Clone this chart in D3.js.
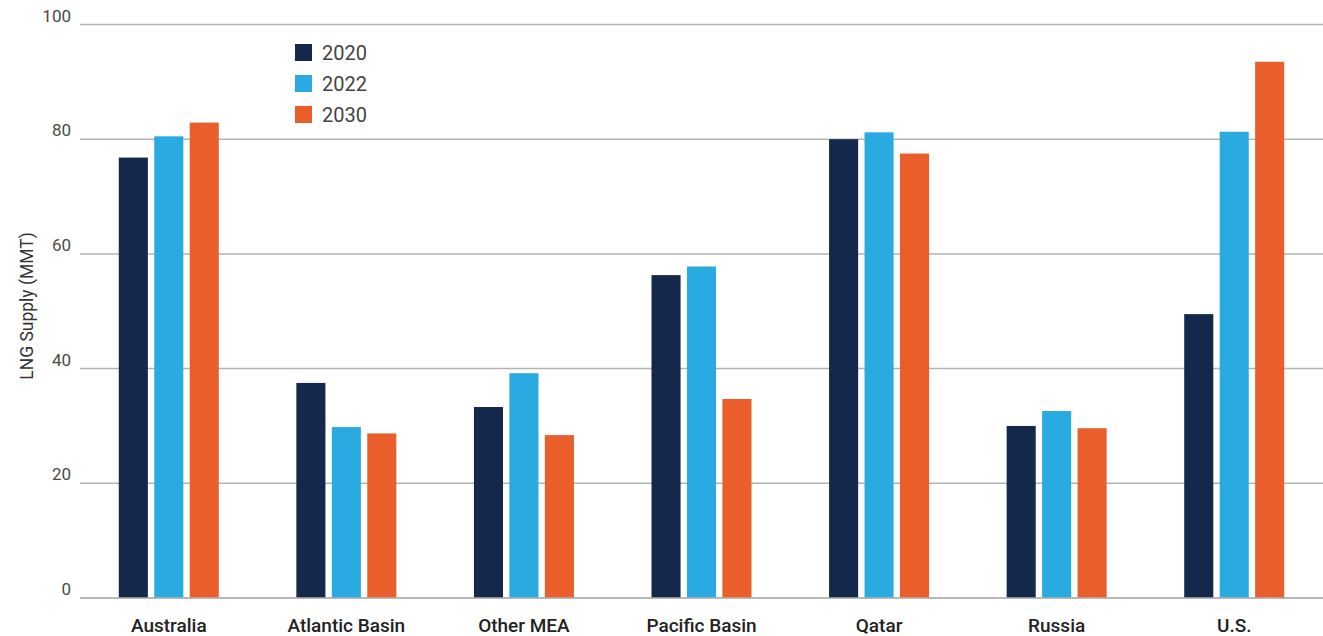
<!DOCTYPE html>
<html>
<head>
<meta charset="utf-8">
<script src="https://cdn.jsdelivr.net/npm/d3@7"></script>
<style>
  body { margin: 0; background: #fff; }
  svg text { font-family: Roboto, "Liberation Sans", sans-serif; }
</style>
</head>
<body>
<div id="chart"></div>
<script>
const regions = ['Australia', 'Atlantic Basin', 'Other MEA', 'Pacific Basin', 'Qatar', 'Russia', 'U.S.']
const years = ['2020', '2022', '2030']
const supply2020 = [76.8, 37.5, 33.3, 56.3, 80.0, 30.0, 49.5]
const supply2022 = [80.5, 29.8, 39.2, 57.8, 81.2, 32.6, 81.3]
const supply2030 = [82.9, 28.7, 28.4, 34.7, 77.5, 29.6, 93.5]
const yTicks = [0, 20, 40, 60, 80, 100]
const colors = ['#13284b', '#29abe2', '#e95e2a']

const width = 1323, height = 636
const margin = {top: 24.5, right: 0, bottom: 38, left: 80}

const series = [supply2020, supply2022, supply2030]
const rows = regions.map((r, i) => ({
    region: r,
    values: years.map((y, j) => ({year: y, value: series[j][i]}))
}))

const svg = d3.select('#chart').append('svg')
    .attr('width', width)
    .attr('height', height)

const x0 = d3.scaleBand()
    .domain(regions)
    .range([margin.left, width - margin.right])
    .padding(0)

const x1 = d3.scaleBand()
    .domain(years)
    .range([0, 100])
    .paddingInner(0.18)
    .paddingOuter(0)

const y = d3.scaleLinear()
    .domain([0, 100])
    .range([height - margin.bottom, margin.top])

// gridlines
svg.append('g')
    .selectAll('line')
    .data(yTicks)
    .join('line')
    .attr('x1', margin.left)
    .attr('x2', width - margin.right)
    .attr('y1', d => y(d))
    .attr('y2', d => y(d))
    .style('stroke', '#b3b3b3')
    .style('stroke-width', 1.5)

// y tick labels
svg.append('g')
    .selectAll('text')
    .data(yTicks)
    .join('text')
    .attr('x', 71)
    .attr('y', d => y(d) - 3)
    .attr('text-anchor', 'end')
    .style('font-size', '17px')
    .style('fill', '#4a4a4a')
    .text(d => d)

// y axis title
svg.append('text')
    .attr('transform', `translate(33, ${306})rotate(-90)`)
    .attr('text-anchor', 'middle')
    .style('font-size', '17.5px')
    .style('fill', '#333')
    .text('LNG Supply (MMT)')

// bars
const groups = svg.append('g')
    .selectAll('g')
    .data(rows)
    .join('g')
    .attr('transform', d => `translate(${x0(d.region) + x0.bandwidth() / 2 - 50}, 0)`)

groups.selectAll('rect')
    .data(d => d.values)
    .join('rect')
    .attr('x', d => x1(d.year))
    .attr('y', d => y(d.value))
    .attr('width', x1.bandwidth())
    .attr('height', d => y(0) - y(d.value))
    .style('fill', (d, i) => colors[i])

// zero line on top
svg.append('line')
    .attr('x1', margin.left)
    .attr('x2', width)
    .attr('y1', y(0))
    .attr('y2', y(0))
    .style('stroke', '#b3b3b3')
    .style('stroke-width', 1.5)

// category labels
svg.append('g')
    .selectAll('text')
    .data(regions)
    .join('text')
    .attr('x', d => x0(d) + x0.bandwidth() / 2)
    .attr('y', 632)
    .attr('text-anchor', 'middle')
    .style('font-size', '19px')
    .style('font-weight', 500)
    .style('fill', '#222')
    .text(d => d)

// legend
const legend = svg.append('g')
    .attr('transform', 'translate(295, 44)')

const item = legend.selectAll('g')
    .data(years)
    .join('g')
    .attr('transform', (d, i) => `translate(0, ${i * 31})`)

item.append('rect')
    .attr('width', 17)
    .attr('height', 17)
    .style('fill', (d, i) => colors[i])

item.append('text')
    .attr('x', 27)
    .attr('y', 15.5)
    .style('font-size', '20px')
    .style('fill', '#444')
    .text(d => d)
</script>
</body>
</html>
